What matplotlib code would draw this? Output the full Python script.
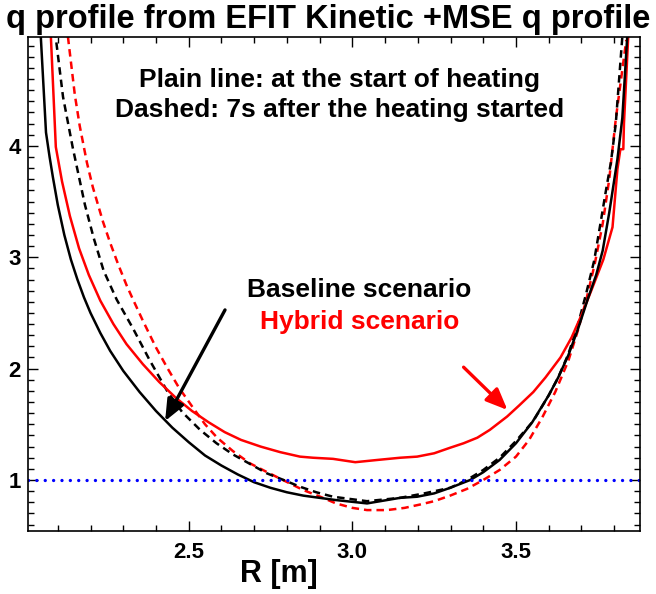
import matplotlib
matplotlib.use('Agg')
import matplotlib.pyplot as plt
from matplotlib.ticker import MultipleLocator, FixedLocator

plt.rcParams['font.family'] = ['Liberation Sans', 'DejaVu Sans']
plt.rcParams['font.weight'] = 'bold'

# R [m] and q, one pair of arrays per profile
# baseline, start of heating (black solid)
r_base_0 = [2.047, 2.064, 2.075, 2.085, 2.100, 2.120, 2.140, 2.160, 2.180, 2.200,
            2.230, 2.260, 2.300, 2.350, 2.400, 2.450, 2.500, 2.550, 2.600, 2.650,
            2.700, 2.750, 2.800, 2.850, 2.900, 2.950, 3.045, 3.146, 3.198, 3.250,
            3.299, 3.360, 3.400, 3.450, 3.500, 3.550, 3.600, 3.629, 3.660, 3.690,
            3.720, 3.745, 3.765, 3.785, 3.810, 3.825, 3.840]
q_base_0 = [5.04, 4.12, 3.90, 3.72, 3.47, 3.20, 2.98, 2.80, 2.64, 2.50,
            2.32, 2.16, 1.98, 1.79, 1.62, 1.47, 1.34, 1.22, 1.13, 1.05,
            0.98, 0.93, 0.89, 0.86, 0.84, 0.82, 0.79, 0.84, 0.85, 0.88,
            0.93, 1.00, 1.07, 1.18, 1.33, 1.52, 1.76, 1.92, 2.12, 2.36,
            2.63, 2.84, 3.06, 3.40, 3.88, 4.25, 4.98]

# hybrid, start of heating (red solid)
r_hyb_0 = [2.078, 2.094, 2.113, 2.137, 2.165, 2.195, 2.230, 2.270, 2.310, 2.360,
           2.410, 2.460, 2.510, 2.560, 2.610, 2.660, 2.720, 2.780, 2.840, 2.880,
           2.941, 3.009, 3.076, 3.146, 3.198, 3.250, 3.299, 3.340, 3.382, 3.420,
           3.473, 3.510, 3.553, 3.590, 3.636, 3.670, 3.703, 3.730, 3.767, 3.795,
           3.810, 3.819, 3.828, 3.830, 3.834, 3.843]
q_hyb_0 = [5.04, 3.99, 3.68, 3.37, 3.08, 2.84, 2.61, 2.40, 2.22, 2.04,
           1.88, 1.74, 1.62, 1.52, 1.43, 1.36, 1.30, 1.25, 1.21, 1.20,
           1.19, 1.16, 1.18, 1.20, 1.21, 1.24, 1.29, 1.33, 1.38, 1.45,
           1.57, 1.67, 1.79, 1.92, 2.10, 2.28, 2.50, 2.70, 2.98, 3.27,
           3.79, 3.97, 3.97, 4.20, 4.44, 4.98]

# baseline, 7 s after heating start (black dashed)
r_base_7 = [2.091, 2.116, 2.146, 2.183, 2.210, 2.240, 2.280, 2.330, 2.380, 2.434,
            2.480, 2.535, 2.585, 2.635, 2.690, 2.739, 2.790, 2.840, 2.890, 2.941,
            3.045, 3.146, 3.220, 3.299, 3.350, 3.400, 3.450, 3.500, 3.553, 3.600,
            3.629, 3.660, 3.690, 3.715, 3.739, 3.758, 3.775, 3.790, 3.805, 3.825]
q_base_7 = [5.04, 4.44, 3.98, 3.47, 3.17, 2.88, 2.62, 2.36, 2.08, 1.80,
            1.61, 1.45, 1.33, 1.23, 1.14, 1.06, 1.00, 0.94, 0.89, 0.85,
            0.81, 0.84, 0.88, 0.93, 1.00, 1.09, 1.20, 1.35, 1.53, 1.76,
            1.92, 2.13, 2.40, 2.68, 2.97, 3.30, 3.60, 3.85, 4.20, 4.98]

# hybrid, 7 s after heating start (red dashed)
r_hyb_7 = [2.131, 2.152, 2.167, 2.189, 2.207, 2.238, 2.260, 2.284, 2.310, 2.330,
           2.360, 2.400, 2.434, 2.470, 2.513, 2.550, 2.587, 2.635, 2.687, 2.740,
           2.788, 2.850, 2.902, 2.950, 3.000, 3.045, 3.106, 3.160, 3.207, 3.250,
           3.299, 3.350, 3.400, 3.450, 3.500, 3.540, 3.580, 3.620, 3.660, 3.690,
           3.715, 3.740, 3.765, 3.785, 3.805, 3.837]
q_hyb_7 = [4.98, 4.46, 4.18, 3.85, 3.63, 3.32, 3.13, 2.94, 2.75, 2.62,
           2.43, 2.19, 2.01, 1.83, 1.65, 1.50, 1.38, 1.26, 1.15, 1.07,
           1.00, 0.91, 0.85, 0.79, 0.75, 0.73, 0.73, 0.75, 0.78, 0.81,
           0.86, 0.92, 1.00, 1.09, 1.21, 1.36, 1.56, 1.79, 2.07, 2.35,
           2.62, 2.93, 3.30, 3.70, 4.24, 4.95]

q_ref = 1.0
x_major = [2.5, 3.0, 3.5]
x_labels = ['2.5', '3.0', '3.5']
y_major = [1, 2, 3, 4]

fig = plt.figure(figsize=(6.56, 5.94), dpi=100)
ax = fig.add_axes([28 / 656, 1 - 530.7 / 594, (640 - 28) / 656, (530.7 - 36.7) / 594])

lw = 1.8
ax.plot(r_hyb_7, q_hyb_7, color='red', lw=lw, dashes=(3, 2))
ax.plot(r_base_7, q_base_7, color='black', lw=lw, dashes=(3, 2))
ax.plot(r_hyb_0, q_hyb_0, color='red', lw=lw)
ax.plot(r_base_0, q_base_0, color='black', lw=lw)
ax.axhline(q_ref, color='blue', lw=2.4, linestyle=(0, (0.01, 2.5)),
           dash_capstyle='round')

ax.set_xlim(2.009, 3.879)
ax.set_ylim(0.545, 4.98)

ax.xaxis.set_major_locator(FixedLocator(x_major))
ax.set_xticklabels(x_labels)
ax.xaxis.set_minor_locator(MultipleLocator(0.1))
ax.yaxis.set_major_locator(FixedLocator(y_major))
ax.yaxis.set_minor_locator(MultipleLocator(0.1))
ax.tick_params(which='both', direction='in', top=True, right=True, width=1.0)
ax.tick_params(which='major', length=7.5)
ax.tick_params(which='minor', length=4)
ax.tick_params(axis='x', which='major', labelsize=16, pad=8)
ax.tick_params(axis='y', which='major', labelsize=16, pad=5)
for lab in ax.get_xticklabels() + ax.get_yticklabels():
    lab.set_fontweight('bold')
for s in ax.spines.values():
    s.set_linewidth(1.2)

ax.text(2.960, 4.594, 'Plain line: at the start of heating', ha='center', va='center',
        fontsize=19, fontweight='bold')
ax.text(2.960, 4.324, 'Dashed: 7s after the heating started', ha='center', va='center',
        fontsize=19, fontweight='bold')
ax.text(3.021, 2.707, 'Baseline scenario', ha='center', va='center',
        fontsize=19, fontweight='bold', color='black')
ax.text(3.021, 2.422, 'Hybrid scenario', ha='center', va='center',
        fontsize=19, fontweight='bold', color='red')

ax.annotate('', xy=(2.428, 1.53), xytext=(2.611, 2.527),
            arrowprops=dict(arrowstyle='-|>,head_length=1.3,head_width=0.55',
                            color='black', lw=2.4, shrinkA=0, shrinkB=0))
ax.annotate('', xy=(3.474, 1.629), xytext=(3.340, 2.013),
            arrowprops=dict(arrowstyle='-|>,head_length=1.3,head_width=0.55',
                            color='red', lw=2.4, shrinkA=0, shrinkB=0))

fig.text(0.5, 1 - 28 / 594, 'q profile from EFIT Kinetic +MSE q profile',
         ha='center', va='baseline', fontsize=23.5, fontweight='bold')
fig.text(279 / 656, 1 - 582 / 594, 'R [m]', ha='center', va='baseline',
         fontsize=22, fontweight='bold')

fig.savefig('out.png', dpi=100)
